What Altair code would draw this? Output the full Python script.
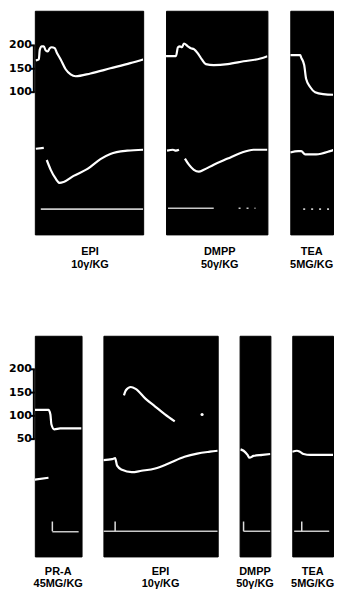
import altair as alt
import pandas as pd

# ---------------- data ----------------
# Top row (x: time units, y: mmHg-equivalent units)
p1_bp_t = [1, 4, 5, 7, 9, 11, 13, 15, 17, 20, 22, 26, 31, 36, 41, 56, 76, 96, 109]
p1_bp_v = [168, 170, 191, 198, 198, 189, 187, 194, 196, 194, 185, 170, 149, 138, 134, 140, 151, 162, 170]
p1_lo_a_t = [1, 9]
p1_lo_a_v = [-21, -19]
p1_lo_b_t = [12, 16, 21, 25, 29, 39, 53, 66, 76, 93, 109]
p1_lo_b_v = [-45, -66, -85, -94, -92, -79, -64, -43, -32, -25, -23]
p1_base_t = [6, 109]
p1_base_v = [-150, -150]

p2_bp_t = [0, 10, 12, 14, 16, 18, 22, 25, 28, 32, 36, 40, 48, 62, 78, 95, 102]
p2_bp_v = [177, 177, 196, 198, 196, 204, 198, 194, 192, 183, 170, 160, 158, 160, 166, 172, 177]
p2_lo_a_t = [1, 7, 10, 13]
p2_lo_a_v = [-25, -23, -25, -23]
p2_lo_b_t = [19, 23, 28, 33, 38, 48, 62, 75, 88, 102]
p2_lo_b_v = [-42, -55, -66, -70, -66, -55, -42, -30, -23, -23]
p2_base_t = [2, 48]
p2_base_v = [-148, -148]
p2_dot_t = [73, 90]
p2_dot_v = [-148, -148]

p3_bp_t = [0, 10, 11, 14, 16, 20, 25, 33, 51]
p3_bp_v = [179, 179, 174, 158, 128, 111, 100, 96, 94]
p3_lo_t = [0, 8, 11, 15, 26, 40, 51]
p3_lo_v = [-29, -26, -26, -33, -33, -26, -17]
p3_dot_t = [13, 41]
p3_dot_v = [-150, -150]

# Bottom row
pa_bp_t = [0, 14, 16, 17, 20, 26, 40, 48]
pa_bp_v = [113, 113, 103, 82, 71, 73, 73, 73]
pa_lo_t = [0, 14]
pa_lo_v = [-37, -33]
pa_base_t = [18, 45]
pa_base_v = [-149, -149]
pa_mark_t = [18]

pb_arc_t = [21, 23, 28, 33, 43, 53, 63, 73]
pb_arc_v = [144, 155, 162, 158, 137, 120, 103, 88]
pb_spot_t = [101]
pb_spot_v = [103]
pb_lo_t = [0, 9, 12, 14, 19, 29, 39, 53, 66, 83, 96, 109, 117]
pb_lo_v = [5, 7, 9, -7, -16, -21, -18, -13, -3, 12, 19, 23, 25]
pb_base_t = [0, 117]
pb_base_v = [-148, -148]
pb_mark_t = [12]

pc_lo_t = [1, 4, 8, 10, 14, 23, 31]
pc_lo_v = [28, 25, 16, 10, 14, 16, 18]
pc_base_t = [4, 31]
pc_base_v = [-148, -148]
pc_mark_t = [4]

pd_lo_t = [0, 5, 8, 12, 19, 29, 43]
pd_lo_v = [23, 25, 23, 18, 16, 16, 16]
pd_base_t = [2, 39]
pd_base_v = [-148, -148]
pd_mark_t = [10]

mark_lo = -148
mark_hi = -127

top_scale_vals = [100, 150, 200]
bot_scale_vals = [50, 100, 150, 200]

labels_top = [("EPI", "10γ/KG"), ("DMPP", "50γ/KG"), ("TEA", "5MG/KG")]
labels_bot = [("PR-A", "45MG/KG"), ("EPI", "10γ/KG"), ("DMPP", "50γ/KG"), ("TEA", "5MG/KG")]

Y_TOP = [-204, 274]
Y_BOT = [-202, 272]


def lines_df(segments):
    rows = []
    for i, (ts, vs) in enumerate(segments):
        for t, v in zip(ts, vs):
            rows.append({"t": t, "v": v, "seg": i})
    return pd.DataFrame(rows)


def panel(w, h, xmax, ydom, traces, label, dx=0, offset=12, gap=13, base=None,
          base_dot=None, marks=None, spots=None, scale_vals=None):
    xs = alt.Scale(domain=[0, xmax], nice=False, zero=False)
    ys = alt.Scale(domain=ydom, nice=False, zero=False)
    X = alt.X("t:Q", scale=xs, axis=None)
    Y = alt.Y("v:Q", scale=ys, axis=None)
    layers = [
        alt.Chart(lines_df(traces)).mark_line(
            color="white", strokeWidth=2.2, interpolate="monotone", clip=True
        ).encode(x=X, y=Y, detail="seg:N")
    ]
    if base:
        layers.append(alt.Chart(lines_df([base])).mark_line(
            color="#c8c8c8", strokeWidth=1.6, clip=True).encode(x=X, y=Y, detail="seg:N"))
    if base_dot:
        layers.append(alt.Chart(lines_df([base_dot])).mark_line(
            color="#c8c8c8", strokeWidth=1.6, strokeDash=[2, 6], clip=True
        ).encode(x=X, y=Y, detail="seg:N"))
    if marks:
        mdf = pd.DataFrame({"t": marks, "v": [mark_lo] * len(marks), "v2": [mark_hi] * len(marks)})
        layers.append(alt.Chart(mdf).mark_rule(color="#dddddd", strokeWidth=1.5).encode(
            x=X, y=Y, y2="v2:Q"))
    if spots:
        sdf = pd.DataFrame({"t": spots[0], "v": spots[1]})
        layers.append(alt.Chart(sdf).mark_point(filled=True, color="white", size=10, opacity=1).encode(x=X, y=Y))
    if scale_vals:
        # pressure calibration bracket with its ticks and labels
        bdf = pd.DataFrame({"v": [min(scale_vals)], "v2": [max(scale_vals)]})
        layers.append(alt.Chart(bdf).mark_rule(color="black", strokeWidth=2).encode(
            x=alt.value(-1), y=Y, y2="v2:Q"))
        sdf = pd.DataFrame({"v": scale_vals, "lab": [str(s) for s in scale_vals]})
        layers.append(alt.Chart(sdf).mark_rule(color="black", strokeWidth=2).encode(
            x=alt.value(-4), x2=alt.value(0), y=Y))
        layers.append(alt.Chart(sdf).mark_text(
            font="DejaVu Sans", fontWeight="bold", fontSize=11, color="black",
            align="right", baseline="middle").encode(
            x=alt.value(-3), y=Y, text="lab:N"))
    # drug label under the panel (two lines)
    ldf = pd.DataFrame({"line": list(label), "k": [0, 1]})
    for k in (0, 1):
        layers.append(
            alt.Chart(ldf).transform_filter(alt.datum.k == k).mark_text(
                font="Liberation Sans", fontSize=11, fontWeight="bold", color="black",
                baseline="top", align="center",
            ).encode(text="line:N", x=alt.value(w / 2 + dx), y=alt.value(h + offset + gap * k))
        )
    return alt.layer(*layers).properties(width=w, height=h)


p1 = panel(109, 225, 109, Y_TOP,
           [(p1_bp_t, p1_bp_v), (p1_lo_a_t, p1_lo_a_v), (p1_lo_b_t, p1_lo_b_v)],
           labels_top[0], dx=1, offset=12, base=(p1_base_t, p1_base_v),
           scale_vals=top_scale_vals)
p2 = panel(102, 225, 102, Y_TOP,
           [(p2_bp_t, p2_bp_v), (p2_lo_a_t, p2_lo_a_v), (p2_lo_b_t, p2_lo_b_v)],
           labels_top[1], dx=3, offset=12, base=(p2_base_t, p2_base_v),
           base_dot=(p2_dot_t, p2_dot_v))
p3 = panel(43, 225, 43, Y_TOP,
           [(p3_bp_t, p3_bp_v), (p3_lo_t, p3_lo_v)],
           labels_top[2], dx=0, offset=12, base_dot=(p3_dot_t, p3_dot_v))

pa = panel(47, 222, 48, Y_BOT,
           [(pa_bp_t, pa_bp_v), (pa_lo_t, pa_lo_v)],
           labels_bot[0], offset=10, gap=12, base=(pa_base_t, pa_base_v), marks=pa_mark_t,
           scale_vals=bot_scale_vals)
pb = panel(115, 222, 117, Y_BOT,
           [(pb_arc_t, pb_arc_v), (pb_lo_t, pb_lo_v)],
           labels_bot[1], offset=10, gap=12, base=(pb_base_t, pb_base_v), marks=pb_mark_t,
           spots=(pb_spot_t, pb_spot_v))
pc = panel(31, 222, 31, Y_BOT,
           [(pc_lo_t, pc_lo_v)],
           labels_bot[2], offset=10, gap=12, base=(pc_base_t, pc_base_v), marks=pc_mark_t)
pdd = panel(41, 222, 43, Y_BOT,
            [(pd_lo_t, pd_lo_v)],
            labels_bot[3], offset=10, gap=12, base=(pd_base_t, pd_base_v), marks=pd_mark_t)

row1 = alt.hconcat(p1, p2, p3, spacing=23, bounds="flush")
row2 = alt.hconcat(pa, pb, pc, pdd, spacing=22, bounds="flush")

chart = alt.vconcat(row1, row2, spacing=64).properties(
    padding=0, background="white"
).configure_view(fill="black", stroke="black")

chart.save("out.html", embed_options={"renderer": "svg", "actions": False})
